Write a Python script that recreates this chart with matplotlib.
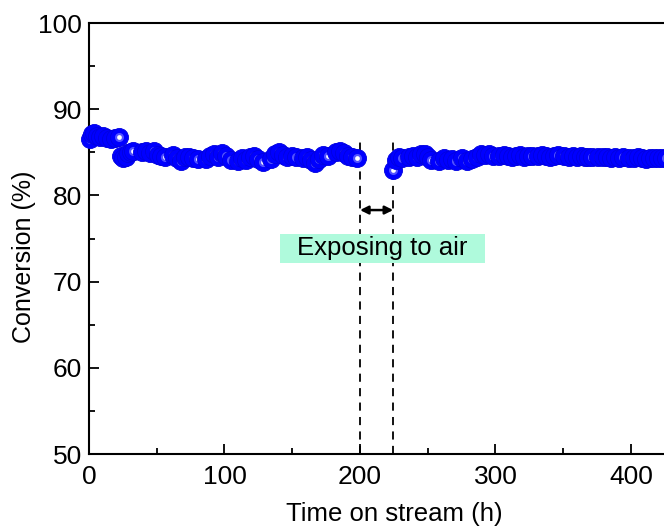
import matplotlib
matplotlib.use("Agg")
import matplotlib.pyplot as plt
from matplotlib.patches import Rectangle
from matplotlib.ticker import MultipleLocator

plt.rcParams['font.family'] = ['Liberation Sans', 'DejaVu Sans']

# ---- data ----
time_h = [0.5, 2, 4, 6, 8, 10,
          13, 16, 19, 22,
          23.5, 25, 27, 29, 31, 32.5,
          39, 42, 45, 48, 51, 53.5, 56,
          62, 65, 68, 71, 74, 77, 80.5,
          86, 89, 92, 95, 98, 101, 105,
          110, 113, 116, 119, 122, 125, 128.5,
          134, 137, 140, 143, 146, 150, 153,
          158, 161, 164, 167, 170, 173, 176.5,
          182, 185, 188, 191, 194, 197.8,
          224.6, 226.5, 228.5, 230.7,
          236, 239, 242, 245, 248, 250, 252.4,
          258, 262, 265, 268, 271, 275, 278.7,
          283, 286, 289, 292, 295, 298, 302.6,
          306, 309, 312, 315, 318, 321, 324, 326.7,
          331, 334, 337, 340, 343, 346, 350.8,
          354, 357, 360, 363, 366, 368, 371.5,
          376, 379, 382, 385, 388, 391, 394, 398.5,
          402, 405, 408, 411, 414, 417, 420, 422.6, 426]
conversion = [86.6, 87.1, 87.2, 86.9, 86.8, 86.9,
              86.7, 86.6, 86.7, 86.8,
              84.6, 84.3, 84.5, 84.9, 85.0, 85.2,
              85.0, 85.2, 84.9, 85.1, 84.7, 84.6, 84.4,
              84.7, 84.3, 84.0, 84.4, 84.5, 84.3, 84.2,
              84.2, 84.6, 84.8, 84.5, 84.9, 84.6, 84.1,
              84.0, 84.3, 84.1, 84.4, 84.6, 84.2, 83.9,
              84.2, 84.8, 85.0, 84.7, 84.4, 84.6, 84.4,
              84.3, 84.5, 84.1, 83.8, 84.2, 84.7, 84.6,
              85.0, 85.2, 84.9, 84.6, 84.4, 84.3,
              83.0, 84.1, 84.5, 84.3,
              84.4, 84.6, 84.4, 84.8, 84.8, 84.5, 84.1,
              84.0, 84.3, 84.1, 84.2, 84.0, 84.3, 84.0,
              84.2, 84.5, 84.8, 84.7, 84.8, 84.6, 84.6,
              84.7, 84.6, 84.5, 84.6, 84.7, 84.5, 84.6, 84.6,
              84.6, 84.7, 84.6, 84.5, 84.6, 84.7, 84.6,
              84.5, 84.6, 84.5, 84.6, 84.4, 84.5, 84.5,
              84.4, 84.5, 84.4, 84.3, 84.4, 84.3, 84.4, 84.3,
              84.3, 84.4, 84.3, 84.2, 84.3, 84.3, 84.3, 84.3, 84.3]

exposure_start = 200
exposure_end = 224.5
annotation_text = "Exposing to air"
xlabel = "Time on stream (h)"
ylabel = "Conversion (%)"
x_ticks = [0, 100, 200, 300, 400]
y_ticks = [50, 60, 70, 80, 90, 100]

# ---- figure ----
fig = plt.figure(figsize=(6.64, 5.26), dpi=100)
ax = fig.add_axes([89/664, 72/526, 610/664, 431/526])
xmax = 610 / 1.355
ax.set_xlim(0, xmax)
ax.set_ylim(50, 100)

# markers with highlight, drawn point by point so later points cover earlier
for xv, yv in zip(time_h, conversion):
    ax.plot(xv, yv, 'o', ms=13, mfc='#0000ff', mec='#0000e0', mew=0.6,
            zorder=5, clip_on=False)
    ax.plot(xv, yv, 'o', ms=6.5, mfc='#6f6fff', mec='none', alpha=0.75,
            zorder=5, clip_on=False)
    ax.plot(xv, yv, 'o', ms=3.4, mfc='#ffffff', mec='none',
            zorder=5, clip_on=False)

# dashed lines marking exposure
for xv in (exposure_start, exposure_end):
    ax.plot([xv, xv], [50, 86.6], ls=(0, (4.5, 3.5)), color='black', lw=1.3,
            zorder=2)

# double arrow
ax.annotate('', xy=(exposure_start, 78.3), xytext=(exposure_end, 78.3),
            arrowprops=dict(arrowstyle='<|-|>', color='black', lw=1.8,
                            mutation_scale=12, shrinkA=0, shrinkB=0),
            zorder=4)

# text box
ax.add_patch(Rectangle((141, 72.15), 151.3, 3.35, facecolor='#affadc',
                       edgecolor='none', zorder=3))
ax.text(216.6, 73.85, annotation_text, ha='center', va='center',
        fontsize=18.5, zorder=4)

ax.set_xticks(x_ticks)
ax.set_yticks(y_ticks)
ax.xaxis.set_minor_locator(MultipleLocator(50))
ax.yaxis.set_minor_locator(MultipleLocator(5))
ax.tick_params(which='both', direction='in', width=1.3, labelsize=19,
               top=False, right=False)
ax.tick_params(which='major', length=7)
ax.tick_params(which='minor', length=4)
ax.tick_params(axis='x', pad=8)
ax.tick_params(axis='y', pad=5)
for sp in ax.spines.values():
    sp.set_linewidth(1.5)

ax.set_xlabel(xlabel, fontsize=18.5, labelpad=9)
ax.set_ylabel(ylabel, fontsize=18)
ax.yaxis.set_label_coords((36 - 89) / 610, 0.457)

fig.savefig('out.png', dpi=100)
